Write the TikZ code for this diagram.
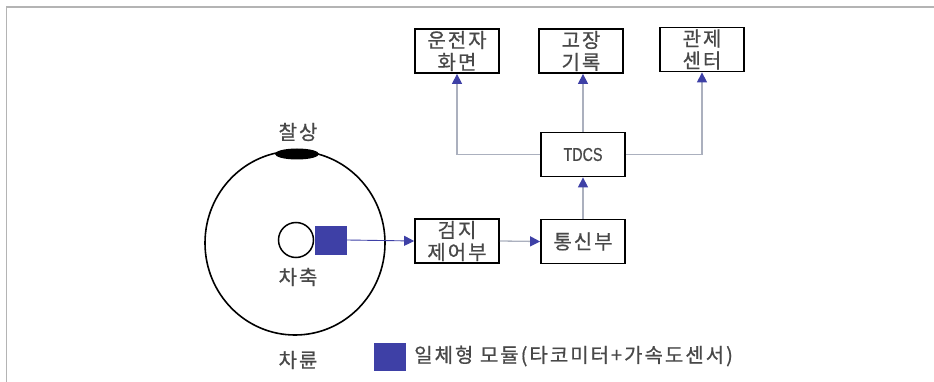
\documentclass[tikz,border=0pt]{standalone}
\usepackage{fontspec}
\setmainfont{Noto Sans CJK KR}
\newfontfamily\kfont[LetterSpace=10,FakeBold=0.7]{Noto Sans CJK KR}
\newfontfamily\lfont[FakeBold=0.7]{Liberation Sans}
\usetikzlibrary{arrows.meta,shapes.geometric}
\definecolor{tblue}{HTML}{3E40A6}
\definecolor{tline}{HTML}{ABB0BE}
\definecolor{ttext}{HTML}{484848}
\definecolor{tframe}{HTML}{B4B4B4}
\tikzset{
  blk/.style={draw=black, line width=1.8pt, minimum width=84pt, minimum height=44pt,
    inner sep=0pt, align=center, text=ttext, font=\kfont\fontsize{20}{22}\selectfont},
  lbl/.style={text=ttext, font=\kfont\fontsize{20}{22}\selectfont, inner sep=0pt},
  conn/.style={draw=tline, line width=1.3pt, -{Triangle[length=10pt,width=10pt,color=tblue]}},
}
\begin{document}
\begin{tikzpicture}[x=1pt,y=-1pt]
\useasboundingbox (0,0) rectangle (934,382);
\draw[tframe, line width=1.4pt] (6.5,382) -- (6.5,7) -- (934,7);
% wheel
\node[draw=black, line width=1.6pt, ellipse, minimum width=180pt, minimum height=184pt, inner sep=0pt] (wheel) at (295,243) {};
\node[ellipse, fill=black, minimum width=44pt, minimum height=11pt, inner sep=0pt] (contact) at (297,154) {};
\node[lbl] (contactlbl) at (298,132) {찰상};
\node[draw=black, line width=1.5pt, circle, minimum size=35pt, inner sep=0pt] (axle) at (296,240) {};
\node[fill=tblue, minimum width=32pt, minimum height=29pt, inner sep=0pt] (module) at (331,240) {};
\node[lbl] (axlelbl) at (298,277) {차축};
\node[lbl] (wheellbl) at (298,360) {차륜};
% blocks
\node[blk] (tdcs) at (583,154.5) {\resizebox{39pt}{13pt}{\lfont TDCS}};
\node[blk] (det) at (457,241) {검지\\제어부};
\node[blk] (comm) at (583,241.5) {통신부};
\node[blk] (drv) at (457,51) {운전자\\화면};
\node[blk] (log) at (581,51) {고장\\기록};
\node[blk] (ctrl) at (702,49.5) {관제\\센터};
% connectors
\draw[conn, draw=tblue, line width=0.9pt] (module.east) -- (det.west);
\draw[conn] (det.east) -- (comm.west);
\draw[conn] (comm.north) -- (tdcs.south);
\draw[conn] (tdcs.west) -| (drv.south);
\draw[conn] (tdcs.north) -- (tdcs.north |- log.south);
\draw[conn] (tdcs.east) -| (ctrl.south);
% legend
\node[fill=tblue, minimum width=32pt, minimum height=28pt, inner sep=0pt] (legbox) at (390,357) {};
\node[lbl, anchor=west] (legtext) at (414,356) {일체형 모듈(타코미터+가속도센서)};
\end{tikzpicture}
\end{document}
